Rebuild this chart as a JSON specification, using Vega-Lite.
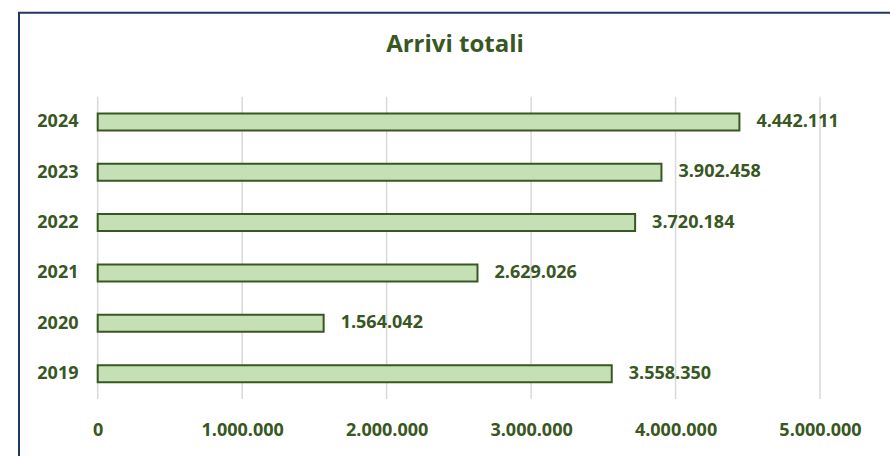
{
  "$schema": "https://vega.github.io/schema/vega-lite/v6.json",
  "width": 890,
  "height": 456,
  "autosize": {"type": "none"},
  "padding": 0,
  "background": "white",
  "config": {
    "view": {"stroke": null},
    "font": "Open Sans",
    "locale": {"number": {"decimal": ",", "thousands": ".", "grouping": [3], "currency": ["", " €"]}},
    "axisX": {
      "orient": "bottom",
      "offset": -53,
      "format": ",d",
      "labelFont": "Open Sans",
      "labelFontSize": 18,
      "labelFontWeight": "bold",
      "labelColor": "#385723",
      "labelPadding": 18,
      "labelFlush": false,
      "ticks": false,
      "domain": false,
      "grid": false,
      "title": null
    },
    "axisY": {
      "orient": "left",
      "offset": -98,
      "format": "d",
      "labelFont": "Open Sans",
      "labelFontSize": 18,
      "labelFontWeight": "bold",
      "labelColor": "#385723",
      "labelPadding": 20,
      "ticks": false,
      "domain": false,
      "grid": false,
      "title": null
    }
  },
  "title": {
    "text": "Arrivi totali",
    "font": "Open Sans",
    "fontSize": 24,
    "fontWeight": "bold",
    "color": "#385723",
    "anchor": "middle",
    "baseline": "alphabetic",
    "dy": 80,
    "dx": 10
  },
  "datasets": {
    "arrivi": [
      {"year": 2024, "v": 4442111},
      {"year": 2023, "v": 3902458},
      {"year": 2022, "v": 3720184},
      {"year": 2021, "v": 2629026},
      {"year": 2020, "v": 1564042},
      {"year": 2019, "v": 3558350}
    ],
    "ticks": [
      {"v": 0}, {"v": 1000000}, {"v": 2000000}, {"v": 3000000}, {"v": 4000000}, {"v": 5000000}
    ]
  },
  "layer": [
    {
      "data": {"values": [{"frame": "border"}]},
      "mark": {"type": "rect", "fill": "white", "fillOpacity": 0, "stroke": "#1F3864", "strokeWidth": 2},
      "encoding": {
        "x": {"datum": -544800, "type": "quantitative", "scale": {"domain": [-676320, 5484570], "nice": false, "zero": false}, "axis": {"values": [0, 1000000, 2000000, 3000000, 4000000, 5000000]}, "title": null},
        "x2": {"datum": 7000000},
        "y": {"datum": 2026.165, "type": "quantitative", "scale": {"domain": [2017.466, 2026.3204], "nice": false, "zero": false}, "axis": {"values": [2019, 2020, 2021, 2022, 2023, 2024]}, "title": null},
        "y2": {"datum": 2000}
      }
    },
    {
      "data": {"name": "ticks"},
      "mark": {"type": "rule", "color": "#D9D9D9", "strokeWidth": 1.5},
      "encoding": {
        "x": {"field": "v", "type": "quantitative", "scale": {"domain": [-676320, 5484570], "nice": false, "zero": false}, "axis": {"values": [0, 1000000, 2000000, 3000000, 4000000, 5000000]}, "title": null},
        "y": {"datum": 2018.5, "type": "quantitative", "scale": {"domain": [2017.466, 2026.3204], "nice": false, "zero": false}, "axis": {"values": [2019, 2020, 2021, 2022, 2023, 2024]}, "title": null},
        "y2": {"datum": 2024.5}
      }
    },
    {
      "data": {"name": "arrivi"},
      "mark": {"type": "bar", "orient": "horizontal", "size": 17, "fill": "#C5E0B4", "stroke": "#385723", "strokeWidth": 2},
      "encoding": {
        "x": {"field": "v", "type": "quantitative", "scale": {"domain": [-676320, 5484570], "nice": false, "zero": false}, "axis": {"values": [0, 1000000, 2000000, 3000000, 4000000, 5000000]}, "title": null},
        "y": {"field": "year", "type": "quantitative", "scale": {"domain": [2017.466, 2026.3204], "nice": false, "zero": false}, "axis": {"values": [2019, 2020, 2021, 2022, 2023, 2024]}, "title": null}
      }
    },
    {
      "data": {"name": "arrivi"},
      "mark": {"type": "text", "align": "left", "baseline": "middle", "dx": 17, "font": "Open Sans", "fontSize": 18, "fontWeight": "bold", "color": "#385723"},
      "encoding": {
        "x": {"field": "v", "type": "quantitative", "scale": {"domain": [-676320, 5484570], "nice": false, "zero": false}, "axis": {"values": [0, 1000000, 2000000, 3000000, 4000000, 5000000]}, "title": null},
        "y": {"field": "year", "type": "quantitative", "scale": {"domain": [2017.466, 2026.3204], "nice": false, "zero": false}, "axis": {"values": [2019, 2020, 2021, 2022, 2023, 2024]}, "title": null},
        "text": {"field": "v", "type": "quantitative", "format": ",d"}
      }
    }
  ]
}
